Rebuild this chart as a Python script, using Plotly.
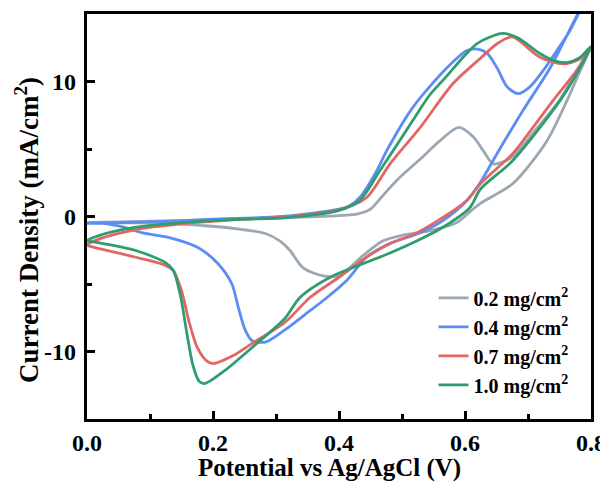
import plotly.graph_objects as go

# ---- data ----
labels = ["0.2 mg/cm<sup>2</sup>", "0.4 mg/cm<sup>2</sup>", "0.7 mg/cm<sup>2</sup>", "1.0 mg/cm<sup>2</sup>"]
colors = ["#9ba8b3", "#5b8df3", "#e16767", "#2f9d6d"]

gray_x = [0.00, 0.10, 0.20, 0.30, 0.40, 0.43, 0.45, 0.465, 0.49, 0.53, 0.56, 0.59, 0.613, 0.63, 0.645,
          0.675, 0.71, 0.75, 0.78, 0.80,
          0.78, 0.762, 0.73, 0.676, 0.624, 0.61, 0.587, 0.545, 0.50, 0.47, 0.438, 0.40, 0.375, 0.343,
          0.322, 0.306, 0.283, 0.235, 0.183, 0.13, 0.05, 0.00]
gray_y = [-0.45, -0.35, -0.25, -0.1, 0.07, 0.2, 0.55, 1.3, 2.6, 4.3, 5.6, 6.6, 5.9, 4.8, 3.9,
          4.4, 6.3, 8.6, 11.0, 12.6,
          10.5, 8.6, 5.6, 2.44, 0.96, 0.44, -0.44, -1.04, -1.4, -1.8, -2.9, -4.4, -4.4, -3.8,
          -2.5, -1.8, -1.26, -0.89, -0.67, -0.5, -0.47, -0.45]

blue_x = [0.00, 0.10, 0.20, 0.31, 0.40, 0.417, 0.433, 0.46, 0.476, 0.517, 0.571, 0.603, 0.62, 0.635,
          0.651, 0.667, 0.684, 0.703, 0.724, 0.746, 0.767, 0.78, 0.795,
          0.779, 0.735, 0.692, 0.651, 0.624, 0.603, 0.565, 0.524, 0.481, 0.444, 0.413, 0.381, 0.345,
          0.314, 0.283, 0.262, 0.251, 0.240, 0.230, 0.208, 0.176, 0.129, 0.087, 0.06, 0.024, 0.00]
blue_y = [-0.5, -0.4, -0.2, 0.0, 0.55, 0.8, 1.41, 3.4, 4.9, 8.07, 11.0, 12.3, 12.4, 12.1,
          11.0, 9.6, 9.1, 9.6, 10.8, 12.3, 13.8, 15.0, 16.3,
          15.0, 11.0, 7.85, 4.67, 2.5, 1.19, -0.3, -1.3, -2.0, -3.0, -4.7, -6.0, -7.3,
          -8.4, -9.3, -9.2, -8.4, -6.7, -5.0, -3.5, -2.3, -1.55, -1.2, -0.8, -0.5, -0.5]

red_x = [0.00, 0.015, 0.05, 0.10, 0.16, 0.25, 0.31, 0.40, 0.444, 0.481, 0.529, 0.581, 0.624, 0.651, 0.675,
         0.719, 0.756, 0.783, 0.80,
         0.78, 0.74, 0.70, 0.676, 0.624, 0.603, 0.565, 0.524, 0.481, 0.444, 0.40, 0.354, 0.314,
         0.262, 0.232, 0.20, 0.19, 0.175, 0.162, 0.15, 0.137, 0.124, 0.076, 0.013, 0.00]
red_y = [-2.1, -1.75, -1.25, -0.8, -0.5, -0.2, -0.05, 0.5, 1.41, 3.9, 6.6, 9.85, 11.7, 12.8, 13.3,
         11.8, 11.3, 11.7, 12.6,
         11.0, 8.6, 6.1, 4.67, 2.4, 1.19, -0.07, -1.2, -2.0, -3.0, -4.5, -6.0, -7.85,
         -9.4, -10.3, -10.9, -10.7, -9.7, -7.8, -5.5, -4.0, -3.6, -3.0, -2.3, -2.1]

green_x = [0.00, 0.02, 0.076, 0.156, 0.25, 0.314, 0.40, 0.433, 0.465, 0.486, 0.517, 0.544, 0.571, 0.597,
           0.619, 0.64, 0.659,
           0.683, 0.719, 0.74, 0.762, 0.783, 0.80,
           0.78, 0.751, 0.676, 0.624, 0.608, 0.565, 0.524, 0.481, 0.438, 0.386, 0.338, 0.314,
           0.262, 0.219, 0.187, 0.178, 0.168, 0.158, 0.148, 0.137, 0.124, 0.076, 0.013, 0.00]
green_y = [-1.8, -1.4, -0.81, -0.44, -0.2, -0.1, 0.45, 1.19, 3.41, 4.89, 7.11, 9.0, 10.4, 11.8,
           12.81, 13.3, 13.56,
           13.26, 12.07, 11.56, 11.4, 11.8, 12.6,
           10.8, 8.6, 4.15, 2.0, 0.67, -0.8, -1.8, -2.7, -3.5, -4.5, -6.0, -7.56,
           -9.7, -11.4, -12.37, -12.2, -11.0, -8.5, -5.8, -4.0, -3.4, -2.5, -1.9, -1.8]

xs = [gray_x, blue_x, red_x, green_x]
ys = [gray_y, blue_y, red_y, green_y]

x_ticks = [0.0, 0.2, 0.4, 0.6, 0.8]
x_ticktext = ["0.0", "0.2", "0.4", "0.6", "0.8"]
y_ticks = [-10, 0, 10]
y_ticktext = ["-10", "0", "10"]
x_title = "Potential vs Ag/AgCl (V)"
y_title = "Current Density (mA/cm<sup>2</sup>)"

FONT = "Liberation Serif, Times New Roman, serif"

fig = go.Figure()
for x, y, lab, col in zip(xs, ys, labels, colors):
    fig.add_trace(go.Scatter(x=x, y=y, mode="lines", name=lab,
                             line=dict(color=col, width=2.8, shape="spline", smoothing=0.8)))

tick_font = dict(family=FONT, size=24, color="black", weight="bold")
axis_common = dict(showline=True, linecolor="black", linewidth=2.5, mirror=True,
                   ticks="inside", ticklen=8, tickwidth=2.5, tickcolor="black",
                   showgrid=False, zeroline=False, automargin=False,
                   tickfont=tick_font)

fig.update_xaxes(range=[0, 0.8], tickvals=x_ticks, ticktext=x_ticktext,
                 minor=dict(ticks="inside", ticklen=5, tickwidth=2.5, tickcolor="black", dtick=0.1),
                 **axis_common)
fig.update_yaxes(range=[-15, 15], tickvals=y_ticks, ticktext=y_ticktext,
                 showticklabels=False,
                 minor=dict(ticks="inside", ticklen=5, tickwidth=2.5, tickcolor="black", dtick=5),
                 **axis_common)

# y tick labels placed right next to the axis, as in the reference
for val, txt in zip(y_ticks, y_ticktext):
    fig.add_annotation(text=txt, xref="paper", yref="y", x=-0.0179, y=val,
                       xanchor="right", yanchor="middle", showarrow=False, font=tick_font)

title_font = dict(family=FONT, size=25, color="black", weight="bold")
fig.add_annotation(text=x_title, xref="paper", yref="paper", x=0.482, y=-0.121,
                   xanchor="center", yanchor="middle", showarrow=False, font=title_font)
fig.add_annotation(text=y_title, xref="paper", yref="paper", x=-0.119, y=0.467,
                   xanchor="center", yanchor="middle", showarrow=False, textangle=-90,
                   font=dict(family=FONT, size=27, color="black", weight="bold"))

# page body has an 8px default margin: figure is 600x473 so the plot box lands at 87..591 / 14..419
fig.update_layout(
    width=600, height=473,
    margin=dict(l=79, r=17, t=6, b=62),
    paper_bgcolor="white", plot_bgcolor="white",
    showlegend=True,
    legend=dict(x=0.6875, y=0.347, xanchor="left", yanchor="top",
                bgcolor="rgba(0,0,0,0)", borderwidth=0,
                font=dict(family=FONT, size=20, color="black", weight="bold"),
                tracegroupgap=0, itemwidth=30),
)

fig.write_html("out.html")
